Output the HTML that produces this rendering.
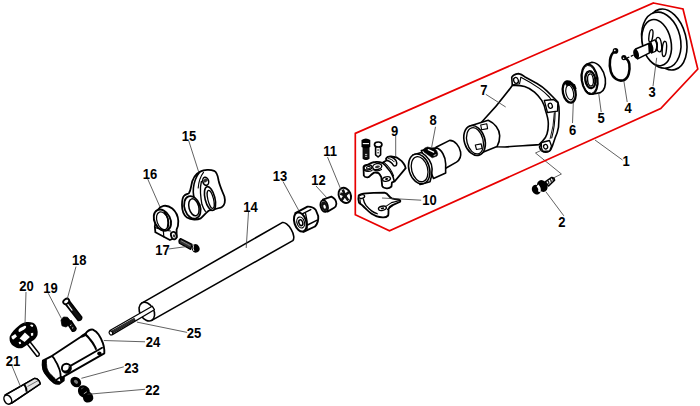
<!DOCTYPE html>
<html><head><meta charset="utf-8">
<style>
html,body{margin:0;padding:0;background:#fff;width:700px;height:406px;overflow:hidden}
svg{display:block}
.o{stroke:#000;stroke-width:1.6;fill:#fff;stroke-linejoin:round;stroke-linecap:round}
.n{stroke:#000;stroke-width:1.5;fill:none;stroke-linejoin:round;stroke-linecap:round}
.t{stroke:#000;stroke-width:1;fill:none;stroke-linecap:round}
.k{fill:#000;stroke:#000;stroke-width:1}
.l{stroke:#3a3a3a;stroke-width:0.8;fill:none}
text{font-family:"Liberation Sans",sans-serif;font-weight:bold;font-size:14px;fill:#000;transform-box:fill-box;transform-origin:center;transform:scaleX(0.93)}
</style></head><body>
<svg width="700" height="406" viewBox="0 0 700 406">
<!-- PARTS -->
<!-- 14 tube -->
<path class="o" d="M141.8,303.1 L282.2,222.6 A4.8,10.5 -30 0 1 292.8,240.6 L151.8,320.4 Z"/>
<ellipse class="o" cx="146.8" cy="311.6" rx="6.9" ry="10" transform="rotate(-30 146.8 311.6)"/>
<!-- 25 shaft -->
<path class="o" style="stroke-width:1.3" d="M109.9,330.5 L152.2,306.2 L154.4,309.7 L112.4,334.6 Z"/>
<path d="M110.5,331.3 L134.3,317.7 L135.8,320.4 L112,334 Z" fill="#111"/>
<g stroke="#777" stroke-width="0.35"><path d="M111,332.1 L134.7,318.5 M111.5,333 L135.2,319.4"/></g>
<ellipse cx="110.9" cy="333" rx="1.6" ry="2.1" transform="rotate(-30 110.9 333)" fill="#fff" stroke="#000" stroke-width="1.1"/>
<!-- 13 nut -->
<path class="o" style="stroke-width:1.9" d="M295.3,213.2 L307.5,206.6 Q312.8,206.3 315.8,210 L318.2,216 Q318.8,222.5 315,226.5 L303.5,231.8 Z"/>
<path class="t" style="stroke-width:1.4" d="M301.8,214.2 L310.8,209.6 M305.6,213.6 Q307.8,221 307,228.8 M307.5,225 L317.2,220.2"/>
<ellipse class="o" style="stroke-width:2" cx="300.3" cy="222" rx="5.9" ry="9.9" transform="rotate(-18 300.3 222)"/>
<ellipse class="o" style="stroke-width:1.2" cx="300.7" cy="222.5" rx="3.7" ry="5.6" transform="rotate(-18 300.7 222.5)"/>
<ellipse cx="300.8" cy="222.7" rx="1.9" ry="3" transform="rotate(-18 300.8 222.7)" fill="#fff" stroke="#000" stroke-width="1.5"/>
<!-- 12 bushing -->
<path class="o" style="stroke-width:1.8" d="M322.8,199.6 L331.4,196.6 Q336.2,198.8 336.4,203.8 Q336,207 334.2,207.8 L327.5,211.6 Z"/>
<ellipse cx="324.2" cy="206.1" rx="3.5" ry="5.9" transform="rotate(-15 324.2 206.1)" fill="#fff" stroke="#000" stroke-width="1.9"/>
<ellipse cx="324.3" cy="206.3" rx="3" ry="4.9" transform="rotate(-15 324.3 206.3)" fill="#111"/>
<ellipse cx="324.6" cy="206.7" rx="1.2" ry="2" transform="rotate(-15 324.6 206.7)" fill="#fff"/>
<!-- 15 bracket -->
<path class="o" style="stroke-width:1.8" d="M191.1,186.6 C192,180 195,174 200.7,171.4 C204,169.8 210,169.2 214,170.8 C217,172.3 218,176.5 218.5,180.2 C219.5,185.5 221.8,190 224.4,196.5 C225.5,201 224.5,205.5 221.6,207.3 C219,208.6 212,209.3 209.6,210.3 C207,211.5 204,215.5 200.7,218.4 C197.5,220 191,220.2 187,217.6 C183.5,215 182,211.5 182,205 C182,200 183,196.5 184.4,195.5 C186,194.2 188.5,193.8 188.9,193.3 C190,191.5 190.7,189 191.1,186.6 Z"/>
<path class="n" style="stroke-width:1.6" d="M199.5,172.2 C196.5,176 194,182 193.4,188 C193,192.5 193.5,197.5 195.6,201.5"/>
<path class="n" style="stroke-width:1.1" d="M203.5,172.3 C200.3,176.5 198.6,182 198.2,188"/>
<path class="n" style="stroke-width:1.3" d="M201.4,181.5 C200.4,185.5 200.2,189.5 200.5,193.1 C200.8,197 201.2,200.8 201.9,204.3 C202.8,207 204,209.5 205.4,211.3"/>
<ellipse class="o" style="stroke-width:1.8" cx="192.4" cy="207.4" rx="7.8" ry="11.6" transform="rotate(-19 192.4 207.4)"/>
<ellipse class="o" style="stroke-width:1.5" cx="193.9" cy="207.3" rx="4.9" ry="8.7" transform="rotate(-15 193.9 207.3)"/>
<ellipse class="o" style="stroke-width:1.5" cx="205.7" cy="181.3" rx="2.9" ry="4.1" transform="rotate(-15 205.7 181.3)"/>
<path d="M203.4,180.2 C204.5,178.3 206.8,178.1 208,179.6 C207.5,181.8 205.5,183 203.6,182.3 Z" fill="#333"/>
<ellipse class="o" style="stroke-width:1.6" cx="210" cy="198.5" rx="4.9" ry="12.2" transform="rotate(-14 210 198.5)"/>
<ellipse class="o" style="stroke-width:1.2" cx="210.7" cy="199.4" rx="2.8" ry="9.3" transform="rotate(-14 210.7 199.4)"/>
<!-- 16 clamp ring -->
<path class="o" style="stroke-width:1.8" d="M154.8,226.6 L155.4,232.3 L169.9,240 L176.6,237.2 L176.6,229.5 C177.8,227.5 178.4,224.4 178.3,221 C178,216 175.8,211.5 172.3,208.5 C169.5,206.3 166.5,205.3 163.5,205.9 C161,206.5 159.2,207.8 157.8,210 Z"/>
<ellipse class="o" style="stroke-width:1.9" cx="162.4" cy="220.2" rx="7.9" ry="11.2" transform="rotate(-27 162.4 220.2)"/>
<ellipse class="o" style="stroke-width:1.3" cx="162.6" cy="220.7" rx="5.6" ry="9.2" transform="rotate(-20 162.6 220.7)"/>
<path class="n" style="stroke-width:1.7" d="M164.5,212.5 C167.3,215 168.7,221 167.6,227.3"/>
<path class="n" style="stroke-width:1.2" d="M155.3,227.6 L163.3,229.9 L170.5,231 M163.3,229.9 L163.8,236.8"/>
<ellipse cx="173.8" cy="235.6" rx="2.7" ry="3.8" transform="rotate(-20 173.8 235.6)" fill="#fff" stroke="#000" stroke-width="1.8"/>
<ellipse cx="174" cy="235.9" rx="1.1" ry="1.6" transform="rotate(-20 174 235.9)" fill="#333"/>
<!-- 17 bolt -->
<path d="M180.6,238.6 L192,244.4 L190.6,249.4 L179.4,243.2 Q178.2,240.3 180.6,238.6 Z" fill="#333" stroke="#000" stroke-width="1.3" stroke-linejoin="round"/>
<path d="M181.5,241 L190.3,245.8" stroke="#ddd" stroke-width="0.9" stroke-dasharray="1.2 1.1"/>
<ellipse cx="195.6" cy="248.4" rx="3.9" ry="4.3" transform="rotate(-25 195.6 248.4)" fill="#000"/>
<path d="M193.6,245.3 Q192.5,248.3 193.9,251" stroke="#fff" stroke-width="0.9" fill="none"/>
<!-- 18 bolt -->
<path d="M64.5,303 L68.8,300.2 L81.8,317.2 Q81.8,320.6 78.2,320.5 Z" fill="#111" stroke="#000" stroke-width="1.5" stroke-linejoin="round"/>
<path d="M67.6,304.2 L72,310.2" stroke="#fff" stroke-width="1.1" stroke-linecap="round"/>
<ellipse cx="66.2" cy="301.4" rx="3.2" ry="2.4" transform="rotate(-35 66.2 301.4)" fill="#fff" stroke="#000" stroke-width="1.8"/>
<!-- 19 screw -->
<path d="M67.5,323.5 L71,320.8 L76,328.5 Q75.6,331.5 72.5,331.2 Z" fill="#111" stroke="#000" stroke-width="1.6" stroke-linejoin="round"/>
<path d="M70.3,325.6 L71.3,324.9 M72.2,328.2 L73.2,327.5" stroke="#fff" stroke-width="1"/>
<path d="M61,320 L63.5,317 L67.5,317.3 L70.2,320.5 L69.5,324.5 L66,327 L62,325.8 Z" fill="#000" stroke="#000" stroke-width="0.8"/>
<!-- 20 knob -->
<path d="M29.8,341.5 L39.2,353.6 Q39.6,356.4 36.8,356.2 L27.4,344.2 Z" fill="#fff" stroke="#000" stroke-width="1.5"/>
<path d="M9.7,336.6 C11.5,332.5 15,328.5 18.5,326 C20.5,324.2 22.5,322.9 24.6,322.4 C27.5,321.6 30.5,321.8 33,322.8 C35.3,324 36.7,326.4 37.2,328.9 C37.8,331 37.9,333 37.5,335 C36.6,337.6 34.6,339.6 32.2,341.1 C29,343.6 25.5,346.3 22.3,348 C19.2,349 15.8,347.7 13.1,345.7 C11.3,344.3 10.1,342.4 9.7,340.4 C9.5,339 9.5,337.8 9.7,336.6 Z" fill="#000"/>
<path d="M18.6,331.4 C18.3,330 19,328.6 20.5,327.8 L24.2,325.9 C25.6,325.3 26.6,326.2 26,327.6 C25.5,328.6 24.5,329.4 23.3,330 L20.5,331.6 C19.6,332 18.9,332 18.6,331.4 Z" fill="#fff"/>
<path d="M30,325 C31,324.2 32.5,324.3 33.3,325.3 L32.6,327 C31.6,326.8 30.6,326.3 30,325 Z" fill="#fff"/>
<path d="M11.4,336.6 L15.2,333.9 L17,336.4 L13.4,339.6 C12.3,339.4 11.5,338.2 11.4,336.6 Z" fill="#fff"/>
<path d="M19.6,338.5 L24.9,332.4 L29.9,336.9 L24.6,341.9 Z" fill="#fff"/>
<path d="M30.8,333.2 L33.2,332.8 L33.2,335.4 L31.2,335.9 Z" fill="#fff"/>
<path d="M18.6,342.2 L20.4,341.6 L21.2,343.8 L19.4,344.3 Z" fill="#fff"/>
<!-- 21 pin -->
<path d="M5,395.2 L34.1,378.6 Q38.8,378.2 40.2,383.8 L11.3,403.3 Z" fill="#fff" stroke="#000" stroke-width="1.5" stroke-linejoin="round"/>
<path d="M25.5,383.8 L34.1,378.8 Q38.6,378.6 39.9,383.8 L28.2,391.3 Z" fill="#e4e4e4"/>
<path d="M24.3,384.5 Q26.5,387.5 26.6,391.8" stroke="#000" stroke-width="2" fill="none"/>
<path d="M27.5,386.5 L38.5,380.4" stroke="#555" stroke-width="0.8"/>
<path d="M5,395.2 L34.1,378.6 Q38.8,378.2 40.2,383.8 L11.3,403.3" fill="none" stroke="#000" stroke-width="1.5" stroke-linejoin="round"/>
<ellipse cx="7.8" cy="399.6" rx="3.5" ry="4.8" transform="rotate(-30 7.8 399.6)" fill="#fff" stroke="#000" stroke-width="1.5"/>
<!-- 24 holder -->
<path d="M42.9,360.6 L52.2,355.8 L80.6,337 L82.8,335.3 L85.5,333.6 C87.5,331 90.5,329.3 92.9,329.6 C95.5,330.8 97.3,332.5 98.6,334.6 C100.5,337.5 102,340.5 102.9,343.1 C103.7,345.5 104.2,348 104.3,350 L104.3,353.3 L64,376.3 L63.7,380.5 L59.3,383.7 C57.5,384 55.5,383.8 54,382.8 C51,380.5 49,378.5 47.8,376.6 C45.5,374 44,372 43.3,369.5 C42.6,366.5 42.5,363 42.9,360.6 Z" fill="#fff" stroke="#000" stroke-width="1.9" stroke-linejoin="round"/>
<path d="M42.9,360.6 C42.5,363 42.6,366.5 43.3,369.5 C44,372 45.5,374 47.8,376.6 C49,378.5 51,380.5 54,382.8 L55.7,379.3 C54.5,378.3 53.8,377.4 53.1,376.6 C51.5,375.2 50.5,374.2 49.5,373.1 C48,370.8 47.3,369.2 46.9,367.7 C46.5,365 46.3,362 46.4,359.8 Z" fill="#000" stroke="#000" stroke-width="0.8"/>
<path class="n" style="stroke-width:1.8" d="M52.2,356.2 C54,358 55,359.8 55.7,361.5 C57,363.3 57.8,365 58.4,366.9 C59.3,368.7 59.9,370.5 60.2,372.2 C60.5,373.5 60.6,374.6 60.6,376"/>
<path class="n" style="stroke-width:2.1" d="M85.6,334.6 C87.5,336.2 89,338 90.1,339.5 C91.8,341.5 93.2,343.3 94.1,345.3 C95,346.8 95.6,347.8 95.9,349"/>
<path d="M79.8,337.6 L83,334.6 L86.5,333 L86.8,335.5 L82.5,337.6 Z" fill="#000"/>
<path class="n" style="stroke-width:1.8" d="M70,366.1 L102.1,347.8"/>
<path d="M55.7,379.3 L60.6,376 L64,376.3 L63.7,380.5 L59.3,383.7 L54,382.8 Z" fill="#000"/>
<path d="M57,380.3 L59.8,378.4 L60.3,381.4 Z" fill="#fff"/>
<circle cx="66.4" cy="368.2" r="4.5" fill="#fff" stroke="#000" stroke-width="1.9"/>
<path d="M62.6,370 C64,373.3 68.5,373.8 70.8,370.2 C70.6,367.5 69.5,366.2 68.5,365.8 C69.3,368.5 67.5,371 64.5,370.5 Z" fill="#000"/>
<ellipse cx="99.4" cy="353.6" rx="2.2" ry="2" fill="#000"/>
<!-- 23 washer -->
<ellipse cx="75.8" cy="382" rx="4.8" ry="5.8" transform="rotate(-50 75.8 382)" fill="#000"/>
<ellipse cx="76" cy="381.8" rx="1.7" ry="2.3" transform="rotate(-50 76 381.8)" fill="#777"/>
<!-- 22 screw -->
<path d="M78.5,388 C79.5,385.5 83,384.6 86,386 C88.5,387.3 90,389.5 89.8,392 C91.8,393.2 93.6,395.5 93.3,398.5 C92.8,401.5 89.5,403 86.5,402.5 C84,401.8 83,399.5 83,397.5 C80.5,396.5 78.2,394.5 78,391.5 C77.9,390 78.1,389 78.5,388 Z" fill="#000"/>
<path d="M83.8,393.8 L86.8,391.8" stroke="#aaa" stroke-width="1"/><path d="M81,389 L83.5,387.6" stroke="#666" stroke-width="0.8"/>
<!-- 3 drum -->
<ellipse class="o" cx="667" cy="39.5" rx="19" ry="31.1" transform="rotate(-14.5 667 39.5)"/>
<ellipse class="o" cx="661.3" cy="40.2" rx="19.1" ry="28.4" transform="rotate(-13.2 661.3 40.2)"/>
<ellipse class="o" cx="656.7" cy="42.6" rx="14.3" ry="23.4" transform="rotate(-11.9 656.7 42.6)"/>
<ellipse class="o" style="stroke-width:1.4" cx="650.9" cy="35.8" rx="1.9" ry="6.2" transform="rotate(8 650.9 35.8)"/>
<ellipse class="o" style="stroke-width:1.4" cx="664.4" cy="48.9" rx="2.1" ry="7.6" transform="rotate(5 664.4 48.9)"/>
<ellipse class="o" style="stroke-width:1.4" cx="658.8" cy="44.6" rx="2.7" ry="7.3" transform="rotate(-8 658.8 44.6)"/>
<path class="o" style="stroke-width:1.3" d="M651,41.6 L654.8,39.9 C656.8,41 657.6,44 657.3,47 C657,49.3 656.3,50.8 655.3,51.3 L651.5,53 Z"/>
<path d="M655.2,40.4 C657.3,42.5 657.6,47.5 655.6,51" stroke="#000" stroke-width="1.6" fill="none"/>
<ellipse cx="650.6" cy="47.8" rx="2.7" ry="5.6" transform="rotate(-12 650.6 47.8)" fill="#000"/>
<path class="o" d="M635.6,48.9 L648.8,43.6 L649.5,52.9 L637.6,58.9 Z"/>
<ellipse cx="636.1" cy="54" rx="2.7" ry="5.2" transform="rotate(-15 636.1 54)" fill="#000"/>
<path d="M626.8,58.2 L629.3,57 M630.8,56.3 L633.6,55" stroke="#000" stroke-width="1.3"/>
<!-- 4 circlip -->
<path d="M614.8,51.2 C609.5,54.5 608.8,64 610.8,71.5 C612.8,78.5 618.5,81.8 623.5,80.2 C628.8,78.3 630.2,70.5 629.3,64 C628.8,61.2 627.2,59 625.2,58" fill="none" stroke="#000" stroke-width="2.5"/>
<circle cx="615.5" cy="50.9" r="2.8" fill="#000"/><circle cx="623.9" cy="57.6" r="2.6" fill="#000"/>
<circle cx="614.8" cy="50.4" r="0.8" fill="#fff"/><circle cx="623.6" cy="58.3" r="0.7" fill="#fff"/>
<!-- 5 bearing -->
<path class="o" d="M586.5,64.2 L592,62.2 C598.5,62.5 603.8,70 605.3,78.5 C606,85.5 604,90.8 600.4,92.6 L592,94.3 Z"/>
<ellipse class="o" style="stroke-width:1.8" cx="589.6" cy="79.3" rx="8.1" ry="15" transform="rotate(-8 589.6 79.3)"/>
<ellipse class="n" style="stroke-width:0.9" cx="589.6" cy="79.4" rx="7.2" ry="14.1" transform="rotate(-8 589.6 79.4)"/>
<ellipse class="o" style="stroke-width:1.7" cx="590.3" cy="79.7" rx="5.3" ry="8.8" transform="rotate(-8 590.3 79.7)"/>
<ellipse class="n" style="stroke-width:1.1" cx="590.4" cy="79.8" rx="4.4" ry="7.9" transform="rotate(-8 590.4 79.8)"/>
<ellipse class="o" style="stroke-width:1.4" cx="590.5" cy="80" rx="2.9" ry="6.1" transform="rotate(-6 590.5 80)"/>
<!-- 6 circlip -->
<ellipse cx="569.2" cy="92" rx="6.3" ry="10.8" transform="rotate(-12 569.2 92)" fill="#fff" stroke="#000" stroke-width="2.3"/>
<ellipse cx="569.7" cy="92.6" rx="3.7" ry="7.4" transform="rotate(-12 569.7 92.6)" fill="none" stroke="#000" stroke-width="1.1"/>
<path d="M564.8,83 Q566.5,80.2 570.5,80.8 L572,83.2 L575,84.2 L576.6,88.5 L575.2,91 L572.8,88 L571,85.5 L566,85.8 Z" fill="#000"/>
<!-- 2 fitting -->
<path d="M545.2,181.8 L551.3,177.6 Q554.3,177.2 554.6,180.2 L548.6,186 Z" fill="#fff" stroke="#000" stroke-width="1.5" stroke-linejoin="round"/>
<path d="M547.6,180.6 Q549.3,182 548.9,184.2 M549.9,179.1 Q551.6,180.5 551.2,182.6 M552,177.8 Q553.5,179 553.3,181" stroke="#000" stroke-width="1.2" fill="none"/>
<ellipse cx="542.3" cy="186" rx="5" ry="6.2" transform="rotate(-30 542.3 186)" fill="#000"/>
<ellipse cx="536.3" cy="189.6" rx="4.3" ry="5.1" transform="rotate(-30 536.3 189.6)" fill="#000"/>
<path d="M537.5,185.4 Q540.3,188.3 539.3,191.8" stroke="#fff" stroke-width="2.5" fill="none"/>
<!-- 7 housing -->
<path class="o" d="M511.7,77.3 Q513,74.5 518.5,73.6 Q521.5,74 524.6,76.7 L537,83.5 Q543,87 546.8,90.9 L554.2,98.3 L557.9,102 Q559.5,107 559.2,113.5 L558.5,127.1 Q557.5,133 555.1,137.9 L552.4,146 Q551,150 549.7,150.8 Q546,153.5 542,151 Q540,149.5 539.5,147 L541.5,143.5 L512.3,85 Z"/>
<path class="n" style="stroke-width:1.1" d="M520.9,77.3 Q531,82.5 539.4,88.4 Q545,92.5 549.3,97 Q553.5,102 555.1,112.2 Q555,126 551.7,137.9"/>
<path class="n" style="stroke-width:0.9" d="M554.3,113 Q553.8,126 550.2,138.5"/>
<ellipse class="o" style="stroke-width:1.3" cx="516" cy="80.4" rx="2.3" ry="3" transform="rotate(-20 516 80.4)"/>
<path class="n" style="stroke-width:1.1" d="M512.3,84.7 L519.5,83.8 L520.9,77.3"/>
<path class="o" style="stroke-width:1.3" d="M544.3,100.5 L553.5,99.5 L557.8,102.7 L557.5,111.2 L547.5,112.5 Z"/>
<ellipse class="o" style="stroke-width:1.3" cx="550.3" cy="105.8" rx="2" ry="2.6" transform="rotate(-20 550.3 105.8)"/>
<path class="o" style="stroke-width:1.3" d="M541.6,142.5 L549.5,140.5 L551.5,146 L549.7,150.8 L543.5,151.5 Q540.5,149 541.6,142.5 Z"/>
<ellipse class="o" style="stroke-width:1.3" cx="545.6" cy="146.7" rx="2" ry="2.3" transform="rotate(-20 545.6 146.7)"/>
<path class="o" d="M481.5,122.2 C487.5,116 500,102.5 512.3,85.5 C517,85 521,85.6 524.6,86.6 C529,88 532,90 534.5,92.1 C538,95 540,98 541.9,100.7 C543.5,103.5 544.8,107 545.6,110.8 C547,115 548.2,119 548.3,123 C548.4,127 548,131 547,133.9 C546,137 544.5,139 542.9,140.6 C541.5,142 540.2,143.8 538.9,144.6 C530,145.5 515,146 505,147 L497,146.8 Z"/>
<path class="o" d="M471.5,125.5 L488.2,120.2 C494.5,123 499.5,129 499.7,135.7 C499.8,140 498.5,144 497,146.6 L476.7,154.7 Z"/>
<ellipse class="o" style="stroke-width:1.6" cx="474.6" cy="140.5" rx="10.3" ry="15.3" transform="rotate(-17 474.6 140.5)"/>
<ellipse class="o" style="stroke-width:1.3" cx="475" cy="140.8" rx="8.1" ry="13.4" transform="rotate(-14 475 140.8)"/>
<path class="o" style="stroke-width:1.1" d="M480.7,125 L486.8,123.8 L487.6,128.6 L481.7,129.8 Z"/>
<path class="o" style="stroke-width:1.1" d="M475.3,145 L481.2,143.9 L482,148.5 L476.5,149.5 Z"/>
<!-- 8 sleeve -->
<path class="o" d="M436,147.2 L449.7,140.4 C455,140.5 459.5,146 460.6,152 C461.2,156 460.5,159.5 456.5,162.1 L445.7,168.2 Z"/>
<path class="o" d="M421.3,150.5 L436.2,147.9 C441.5,149 445.7,157 445.7,164 C445.7,168 445.5,171 445.7,172.9 L433.5,178.4 Z"/>
<path class="o" d="M413,155 L421.3,152.6 C428,156 432.1,163 432.1,168.9 C432.1,175 431,179 430,181.7 L420,184.5 Z"/>
<ellipse class="o" style="stroke-width:1.6" cx="419.2" cy="168.9" rx="10.2" ry="15.3" transform="rotate(-17 419.2 168.9)"/>
<ellipse class="o" style="stroke-width:1.3" cx="419.6" cy="169.2" rx="8" ry="12.8" transform="rotate(-15 419.6 169.2)"/>
<path d="M423,149.8 Q424.5,147.6 427.5,147 L435.1,148.7 Q437.4,151 437.8,154 L437,156 L432.2,157.8 L424,152 Z" fill="#000" stroke="#000" stroke-width="0.6" stroke-linejoin="round"/>
<path d="M428.3,149.7 L433.6,152.2" stroke="#fff" stroke-width="1.3" stroke-linecap="round"/>
<path d="M433.6,155.6 L436.2,154.6" stroke="#fff" stroke-width="0.8"/>
<!-- 9 clamp upper -->
<path class="o" style="stroke-width:1.8" d="M386.2,158.5 C387,156.8 389,156.2 391,156.3 L396.8,157.5 C398.5,158.5 400,159.7 401.7,161.1 C403,162.5 404,164 404.8,165.5 L405.7,168.2 L394.6,181.5 C393,182 392,182.2 391.9,182.5 L391.5,186.5 C390,188 388,188.4 386.6,188.3 C384.5,188.2 382.8,187.4 382.2,186 L381.3,177.2 C380.5,175.5 379.5,174 378.6,173.1 C377,172.5 375.5,172.4 374.2,172.6 C372.5,173.5 371.5,174.5 370.6,175.3 C369.5,176.5 368.5,177.2 367.5,177.3 C365.5,177.4 364.2,176.6 363.8,175.5 L363.5,167 C364,165.5 365.5,165 367,165 L371.5,162.9 C373,162.3 374.2,162 375.5,162 C378,161.8 380.5,162.2 382.2,162.9 L386.2,160.5 Z"/>
<path class="n" style="stroke-width:1.6" d="M382.2,162.9 C384.5,164.5 386.2,166.3 387.5,168.2 C389.5,170.3 390.8,172.3 391.9,174.4 C393,176.5 393.8,178.5 394.2,181"/>
<path class="n" style="stroke-width:1.1" d="M384.2,162.6 C386.5,164.5 388.5,166.5 389.8,168.5 C391.5,171 392.8,173.5 393.6,176"/>
<path class="o" style="stroke-width:1.5" d="M386.4,158.5 C387,157 388.5,156.5 390.5,156.7 C392.5,157.2 394.5,158.5 396,160.5 C396.8,162 396.9,163.5 396.5,164.8 C395.8,166 394.6,166.2 393.6,165.6 C392,163 389.5,161 386.8,160.6 Z"/>
<path class="n" style="stroke-width:1" d="M388.5,158.6 C390.5,158.8 392.8,160 394.2,161.8"/>
<ellipse class="o" style="stroke-width:1.4" cx="368" cy="167.5" rx="4" ry="2.4" transform="rotate(-12 368 167.5)"/>
<ellipse class="n" style="stroke-width:1" cx="368.4" cy="167.6" rx="2" ry="1.1" transform="rotate(-12 368.4 167.6)"/>
<ellipse class="o" style="stroke-width:1.4" cx="377.2" cy="166.6" rx="4.6" ry="3" transform="rotate(-12 377.2 166.6)"/>
<ellipse cx="377.5" cy="166.8" rx="2.5" ry="1.3" transform="rotate(-12 377.5 166.8)" fill="#333"/>
<path class="n" style="stroke-width:1.2" d="M364,170 C366,171.5 369,171.8 372,170.5 M373,169.5 C375.5,171 379,171 381.5,169.5"/>
<ellipse class="o" style="stroke-width:1.4" cx="386.5" cy="179" rx="4" ry="2.2" transform="rotate(-12 386.5 179)"/>
<ellipse cx="386.6" cy="179" rx="1.6" ry="0.9" transform="rotate(-12 386.6 179)" fill="#000"/>
<!-- 10 clamp lower -->
<path class="o" style="stroke-width:1.8" d="M358.7,195.5 C360,194.2 363,193.6 366,193.4 L373.5,192.8 L384.5,192.6 C386.5,192.8 387.8,194.3 389.1,196.1 C390,197.3 391,198.1 391.9,198.4 C394.5,199.2 397,199.5 399.3,199.8 C400.3,200.2 400.5,201 400.2,201.7 L392,205.4 C390.3,206.2 389,207.5 388.5,209 C388.5,211.5 388.6,214 388.2,215.5 C386.5,217.2 384.5,217.6 382.7,217.4 C380.5,217.3 378.5,217 377.1,216.4 C375,215.5 373.2,214.8 371.6,213.7 C369.5,212.3 367.8,210.8 366.1,209 C364.8,207.7 363.5,206.6 362.4,205.4 C361,204.3 359.8,203.5 359,202.6 C358.3,200.5 358.2,197.5 358.7,195.5 Z"/>
<path class="n" style="stroke-width:1.4" d="M363.3,198.9 C363.8,201.5 364.6,203.6 366,205.4 C367.8,207.6 369.5,209.4 371.6,210.9 C373.3,212.2 375.2,213.1 377.1,213.7"/>
<path class="n" style="stroke-width:1.1" d="M360,199.6 L360.5,204"/>
<ellipse class="o" style="stroke-width:1.3" cx="361.7" cy="196.6" rx="3" ry="1.8" transform="rotate(-12 361.7 196.6)"/>
<ellipse class="o" style="stroke-width:1.4" cx="382.4" cy="208.3" rx="4" ry="2.1" transform="rotate(-12 382.4 208.3)"/>
<ellipse cx="382.5" cy="208.3" rx="1.8" ry="0.9" transform="rotate(-12 382.5 208.3)" fill="#000"/>
<path class="n" style="stroke-width:1.1" d="M385.5,206.6 L391.5,202.6 L399,200.7 M387.5,209.5 L392.8,205.6"/>
<!-- bolts near 9 -->
<path d="M363.2,147.5 L368.9,147.5 L368.9,158.6 Q366,160.3 363.2,158.6 Z" fill="#111" stroke="#000" stroke-width="1.2" stroke-linejoin="round"/>
<path d="M365,154.4 L367.2,154.4 M365,156.3 L367.2,156.3" stroke="#fff" stroke-width="0.8"/>
<path d="M361.5,140 Q365.9,137 370.3,140 L370.3,147 Q365.9,149.5 361.5,147 Z" fill="#000"/>
<path d="M362.8,143.6 L369,143.6" stroke="#fff" stroke-width="1.1"/>
<path d="M375.6,146.5 L380.6,146.5 L380.6,154.8 L378.1,157 L375.6,154.8 Z" fill="#fff" stroke="#000" stroke-width="1.6" stroke-linejoin="round"/>
<path d="M377.2,150 L379,150 M377.2,152.8 L379,152.8" stroke="#000" stroke-width="0.9"/>
<ellipse cx="378.2" cy="144.5" rx="3.7" ry="2.5" fill="#fff" stroke="#000" stroke-width="1.7"/>
<!-- 11 washer -->
<ellipse cx="344.8" cy="195.4" rx="5.9" ry="7.9" transform="rotate(-24 344.8 195.4)" fill="#fff" stroke="#000" stroke-width="1.9"/>
<g stroke="#111" stroke-width="2.6"><path d="M344.8,195.4 L342.8,189.5 M344.8,195.4 L349,192 M344.8,195.4 L348.3,200.6 M344.8,195.4 L341.5,200.5 M344.8,195.4 L340.3,193.5"/></g>
<circle cx="344.8" cy="195.4" r="2" fill="#111"/>
<!-- leaders -->
<g class="l">
<path d="M595,140 L622.5,160"/>
<path d="M545.8,191.7 L563.8,215.8"/>
<path d="M656.7,57.8 L653,86.2"/>
<path d="M623.8,80.7 L627.2,102"/>
<path d="M598.6,92.5 L601.2,112"/>
<path d="M573.3,102.8 L572.5,123"/>
<path d="M485.8,94.3 L505.7,107"/>
<path d="M435.5,126.8 L431.6,147.5"/>
<path d="M395.7,136 L395.7,156.4"/>
<path d="M382,198 L421.2,200.2"/>
<path d="M327.5,157 L341,189.8"/>
<path d="M316,186 L327.5,198.5"/>
<path d="M283,181.5 L298.8,210.5"/>
<path d="M248.5,212 L246.2,248"/>
<path d="M188.8,141 L198.8,172.3"/>
<path d="M147.5,178.5 L160,207"/>
<path d="M168.6,249 L185.6,246.7"/>
<path d="M76,266.6 L67,299.9"/>
<path d="M48.2,293.2 L61.5,318.7"/>
<path d="M26,292 L25,324"/>
<path d="M11.9,365.7 L20.7,387"/>
<path d="M87.5,394.3 L145,389.3"/>
<path d="M81.4,378.3 L123.8,366.8"/>
<path d="M103.8,340.5 L145,341.8"/>
<path d="M136.9,322.1 L187.1,332.4"/>
<path d="M542.9,149.6 L535.5,153 L561.4,174 L554,177.7"/>
</g>

<!-- red boundary -->
<polygon points="653.5,3 683,9 697.8,69 660.7,108.6 389.5,230.8 355.3,214.7 355.3,133.4" fill="none" stroke="#e80000" stroke-width="1.7" stroke-linejoin="miter"/>

<!-- labels -->
<g text-anchor="middle">
<text x="626" y="166">1</text>
<text x="562" y="227">2</text>
<text x="652" y="96.7">3</text>
<text x="628" y="112.6">4</text>
<text x="601" y="123">5</text>
<text x="572.5" y="135">6</text>
<text x="484" y="95.3">7</text>
<text x="433" y="125.5">8</text>
<text x="394.7" y="136.2">9</text>
<text x="429.5" y="205">10</text>
<text x="330" y="156.5">11</text>
<text x="318.5" y="184.8">12</text>
<text x="280" y="180.6">13</text>
<text x="250.5" y="212.1">14</text>
<text x="189" y="141">15</text>
<text x="150" y="179.4">16</text>
<text x="162.5" y="255.5">17</text>
<text x="79.2" y="265.2">18</text>
<text x="50.5" y="292.6">19</text>
<text x="26.6" y="291.5">20</text>
<text x="12.9" y="366">21</text>
<text x="152.5" y="395">22</text>
<text x="131.5" y="372.6">23</text>
<text x="153" y="347.5">24</text>
<text x="194" y="338">25</text>
</g>

</svg>
</body></html>
